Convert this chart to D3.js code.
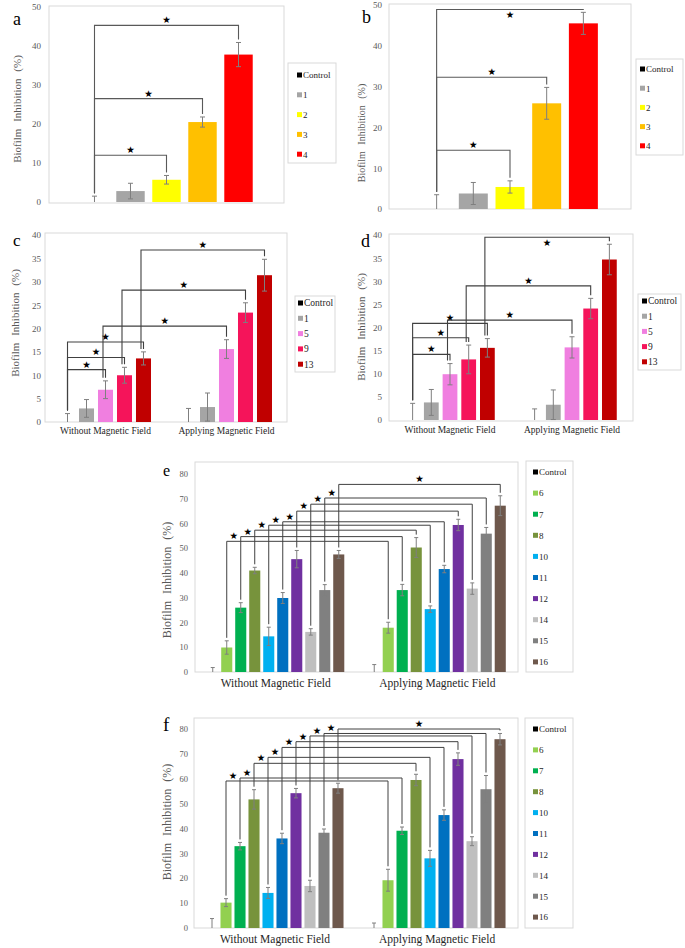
<!DOCTYPE html>
<html>
<head>
<meta charset="utf-8">
<script src="https://cdn.jsdelivr.net/npm/d3@7"></script>
<style>
  body { margin: 0; background: #fff; }
  text { font-family: "Liberation Serif", "Times New Roman", serif; }
</style>
</head>
<body>
<script>
// ---- data ----
const groupsCF = ["Without Magnetic Field", "Applying Magnetic Field"];

const seriesAB = ["Control", "1", "2", "3", "4"];
const colorsAB = ["#000000", "#a5a5a5", "#ffff00", "#ffc000", "#ff0000"];
const valuesA = [0, 2.8, 5.7, 20.5, 37.8];
const errorsA = [1.5, 2.0, 1.1, 1.3, 3.1];
const bracketsA = [{from: [0, 0], to: [0, 2], h: 12.0}, {from: [0, 0], to: [0, 3], h: 26.5}, {from: [0, 0], to: [0, 4], h: 45.3}];
const valuesB = [0, 3.8, 5.4, 25.9, 45.5];
const errorsB = [3.5, 2.7, 1.5, 3.9, 2.7];
const bracketsB = [{from: [0, 0], to: [0, 2], h: 14.4}, {from: [0, 0], to: [0, 3], h: 32.3}, {from: [0, 0], to: [0, 4], h: 48.9}];

const seriesCD = ["Control", "1", "5", "9", "13"];
const colorsCD = ["#000000", "#a5a5a5", "#f07fe0", "#f5145a", "#c00000"];
const valuesC_without = [0, 2.9, 6.9, 10.0, 13.6];
const errorsC_without = [1.8, 1.9, 1.9, 1.7, 1.4];
const valuesC_applying = [0, 3.2, 15.6, 23.4, 31.4];
const errorsC_applying = [2.9, 3.0, 2.0, 2.1, 3.4];
const bracketsC = [
  {from: [0, 0], to: [0, 2], h: 11.2}, {from: [0, 0], to: [0, 3], h: 13.8}, {from: [0, 0], to: [0, 4], h: 17.1},
  {from: [0, 2], to: [1, 2], h: 20.5}, {from: [0, 3], to: [1, 3], h: 28.2}, {from: [0, 4], to: [1, 4], h: 36.8}
];
const valuesD_without = [0, 3.8, 9.9, 13.1, 15.6];
const errorsD_without = [3.6, 2.8, 2.3, 3.1, 2.0];
const valuesD_applying = [0, 3.3, 15.7, 24.1, 34.7];
const errorsD_applying = [2.4, 3.2, 2.3, 2.2, 3.3];
const bracketsD = [
  {from: [0, 0], to: [0, 2], h: 14.2}, {from: [0, 0], to: [0, 3], h: 17.8}, {from: [0, 0], to: [0, 4], h: 20.9},
  {from: [0, 2], to: [1, 2], h: 21.6}, {from: [0, 3], to: [1, 3], h: 29.0}, {from: [0, 4], to: [1, 4], h: 39.5}
];

const seriesEF = ["Control", "6", "7", "8", "10", "11", "12", "14", "15", "16"];
const colorsEF = ["#000000", "#92d050", "#00b050", "#77933c", "#00b0f0", "#0070c0", "#7030a0", "#bfbfbf", "#808080", "#6e584c"];
const valuesE_without = [0, 9.9, 26.0, 41.0, 14.4, 29.9, 45.6, 16.2, 33.1, 47.5];
const errorsE_without = [1.8, 2.7, 2.0, 1.3, 3.7, 2.2, 3.5, 1.3, 2.2, 1.6];
const valuesE_applying = [0, 17.9, 33.1, 50.3, 25.4, 41.6, 59.4, 33.7, 55.9, 67.2];
const errorsE_applying = [3.0, 2.2, 2.3, 4.0, 1.3, 1.5, 2.3, 2.3, 2.5, 4.0];
const bracketHeightsE = [52.8, 54.7, 57.3, 59.3, 60.7, 65.0, 67.8, 70.3, 75.8];
const valuesF_without = [0, 10.2, 32.9, 51.7, 14.1, 36.0, 54.2, 16.9, 38.3, 56.2];
const errorsF_without = [3.8, 1.6, 1.5, 3.9, 2.2, 2.1, 1.9, 2.3, 1.5, 2.0];
const valuesF_applying = [0, 19.2, 39.1, 59.5, 28.0, 45.4, 67.9, 34.9, 55.8, 75.9];
const errorsF_applying = [2.0, 4.4, 1.5, 2.3, 3.2, 2.1, 2.5, 1.8, 5.5, 2.3];
const bracketHeightsF = [59.1, 60.3, 66.2, 68.6, 72.6, 74.9, 77.2, 78.2, 80.0];

// series i of group 0 against series i of group 1
const crossBrackets = hs => hs.map((h, i) => ({from: [0, i + 1], to: [1, i + 1], h: h}));

const W = 685, H = 948;
const serif = '"Liberation Serif", "Times New Roman", serif';
const svg = d3.select("body").append("svg").attr("width", W).attr("height", H);

function drawPanel(cfg) {
  const [x0, y0, x1, y1] = cfg.box;
  const g = svg.append("g");

  g.append("rect")
    .attr("x", x0).attr("y", y0).attr("width", x1 - x0).attr("height", y1 - y0)
    .attr("fill", "none").attr("stroke", "#d9d9d9");

  const y = d3.scaleLinear().domain([0, cfg.yMax]).range([cfg.zeroPx, cfg.topPx]);
  const xg = d3.scaleBand().domain(cfg.groups).range([x0, x1]);
  const span = xg.bandwidth() * cfg.spread;
  const xs = d3.scaleBand().domain(cfg.series)
    .range([(xg.bandwidth() - span) / 2, (xg.bandwidth() + span) / 2])
    .paddingInner(0.21).paddingOuter(0.105);

  const bars = [];
  cfg.groups.forEach((grp, gi) => cfg.series.forEach((s, si) => {
    bars.push({g: grp, gi: gi, s: s, si: si, v: cfg.values[gi][si], e: cfg.errors[gi][si], c: cfg.colors[si]});
  }));
  const cx = d => xg(d.g) + xs(d.s) + xs.bandwidth() / 2;

  // bars
  g.selectAll(".bar")
    .data(bars.filter(d => d.v > 0))
    .join("rect")
    .attr("class", "bar")
    .attr("x", d => xg(d.g) + xs(d.s))
    .attr("width", xs.bandwidth())
    .attr("y", d => y(d.v))
    .attr("height", d => y(0) - y(d.v))
    .attr("fill", d => d.c);

  // error bars
  const eb = g.selectAll(".err").data(bars).join("g").attr("class", "err")
    .attr("stroke", "#7f7f7f").attr("stroke-width", 1);
  eb.append("line")
    .attr("x1", cx).attr("x2", cx)
    .attr("y1", d => y(Math.max(0, d.v - d.e)))
    .attr("y2", d => y(d.v + d.e));
  eb.append("line")
    .attr("x1", d => cx(d) - cfg.cap).attr("x2", d => cx(d) + cfg.cap)
    .attr("y1", d => y(d.v + d.e)).attr("y2", d => y(d.v + d.e));
  eb.filter(d => d.v - d.e > 0).append("line")
    .attr("x1", d => cx(d) - cfg.cap).attr("x2", d => cx(d) + cfg.cap)
    .attr("y1", d => y(d.v - d.e)).attr("y2", d => y(d.v - d.e));

  // y axis
  const ya = g.append("g")
    .attr("transform", `translate(${x0},0)`)
    .call(d3.axisLeft(y).tickValues(d3.range(0, cfg.yMax + 0.01, cfg.yStep)).tickSize(0).tickPadding(cfg.tickPad));
  ya.attr("font-family", null);
  ya.select(".domain").remove();
  ya.selectAll("text").attr("fill", "#595959")
    .style("font-family", serif).style("font-size", cfg.tickSize + "px");

  // x axis (group names)
  if (cfg.groups.length > 1) {
    const xa = g.append("g")
      .attr("transform", `translate(0,${y1})`)
      .call(d3.axisBottom(xg).tickSize(0).tickPadding(cfg.groupPad));
    xa.attr("font-family", null);
    xa.select(".domain").remove();
    xa.selectAll("text").attr("fill", "#262626")
      .style("font-family", serif).style("font-size", cfg.groupSize + "px");
  }

  // significance brackets
  const n = cfg.brackets.length;
  cfg.brackets.forEach((b, i) => {
    const L = bars.find(d => d.gi === b.from[0] && d.si === b.from[1]);
    const R = bars.find(d => d.gi === b.to[0] && d.si === b.to[1]);
    const xl = cx(L) + (b.from[0] !== b.to[0] ? cfg.crossDx : 0);
    const xr = cx(R);
    const yh = y(b.h);
    g.append("path")
      .attr("d", `M${xl},${y(L.v + L.e) - 3}V${yh}H${xr}V${y(R.v + R.e) - 3}`)
      .attr("fill", "none").attr("stroke", cfg.lineColor).attr("stroke-width", cfg.lineWidth);
    const sx = (cfg.starLeft && i < n - 1) ? xl + xs.step() / 2 : (xl + xr) / 2;
    // no room above the line inside the frame: the star sits under it
    const sy = (yh - 8 < y0) ? yh + 9 : yh - 2;
    g.append("text")
      .attr("x", sx).attr("y", sy)
      .attr("text-anchor", "middle")
      .style("font-family", "DejaVu Sans")
      .style("font-size", "9.5px")
      .text("\u2605");
  });

  // legend
  const [lx0, ly0, lx1, ly1] = cfg.legendBox;
  g.append("rect")
    .attr("x", lx0).attr("y", ly0).attr("width", lx1 - lx0).attr("height", ly1 - ly0)
    .attr("fill", "#fff").attr("stroke", "#d9d9d9");
  const li = g.selectAll(".leg").data(cfg.series).join("g").attr("class", "leg")
    .attr("transform", (d, i) => `translate(${cfg.swatchX},${cfg.legendFirst + i * cfg.legendStep})`);
  li.append("rect").attr("x", 0).attr("y", -2.5).attr("width", 5).attr("height", 5)
    .attr("fill", (d, i) => cfg.colors[i]);
  li.append("text").attr("x", 6).attr("y", 3.3)
    .style("font-size", cfg.legendSize + "px").attr("fill", "#262626")
    .text(d => d);

  // y label
  g.append("text")
    .attr("transform", `translate(${cfg.ylabel[0]},${cfg.ylabel[1]}) rotate(-90)`)
    .attr("text-anchor", "middle").attr("dy", "0.35em")
    .attr("fill", "#595959")
    .style("font-size", cfg.ylabelSize + "px")
    .style("word-spacing", "4px")
    .text("Biofilm Inhibition (%)");

  // panel letter
  g.append("text")
    .attr("x", cfg.letter[1]).attr("y", cfg.letter[2])
    .style("font-size", cfg.letter[3] + "px")
    .text(cfg.letter[0]);
}

const common = {lineColor: "#595959", lineWidth: 1.1, cap: 2.5, crossDx: 0, starLeft: false,
  tickSize: 9, groupPad: 5, groupSize: 9.5, legendSize: 9, ylabelSize: 11};

drawPanel(Object.assign({}, common, {
  box: [49, 6, 284, 203], zeroPx: 202, topPx: 7, yMax: 50, yStep: 10,
  groups: [""], series: seriesAB, colors: colorsAB, values: [valuesA], errors: [errorsA],
  brackets: bracketsA, spread: 0.766, tickPad: 8,
  legendBox: [288, 63, 336, 163], legendFirst: 75, legendStep: 19.8, swatchX: 297,
  ylabel: [17, 109], letter: ["a", 13, 25, 18]
}));

drawPanel(Object.assign({}, common, {
  box: [389, 4, 631, 209], zeroPx: 209, topPx: 5, yMax: 50, yStep: 10,
  groups: [""], series: seriesAB, colors: colorsAB, values: [valuesB], errors: [errorsB],
  brackets: bracketsB, spread: 0.758, tickPad: 7,
  legendBox: [636, 59, 683, 155], legendFirst: 69, legendStep: 19.2, swatchX: 640,
  ylabel: [361, 133], ylabelSize: 10, letter: ["b", 362, 23, 18]
}));

drawPanel(Object.assign({}, common, {
  box: [45, 233, 287, 422], zeroPx: 422, topPx: 235, yMax: 40, yStep: 5,
  groups: groupsCF, series: seriesCD, colors: colorsCD,
  values: [valuesC_without, valuesC_applying], errors: [errorsC_without, errorsC_applying],
  brackets: bracketsC, spread: 0.785, tickPad: 4, crossDx: -2.5, lineColor: "#404040",
  legendBox: [295, 296, 335, 372], legendFirst: 303, legendStep: 15.3, swatchX: 298, legendSize: 9.5,
  ylabel: [15, 323], letter: ["c", 13, 246, 17]
}));

drawPanel(Object.assign({}, common, {
  box: [389, 234, 633, 421], zeroPx: 420, topPx: 235, yMax: 40, yStep: 5,
  groups: groupsCF, series: seriesCD, colors: colorsCD,
  values: [valuesD_without, valuesD_applying], errors: [errorsD_without, errorsD_applying],
  brackets: bracketsD, spread: 0.766, tickPad: 7, crossDx: -2.5, lineColor: "#404040",
  legendBox: [638, 294, 681, 370], legendFirst: 301, legendStep: 15.2, swatchX: 642, legendSize: 9.5,
  ylabel: [361, 327], letter: ["d", 361, 247, 18]
}));

drawPanel(Object.assign({}, common, {
  box: [195, 462, 518, 672], zeroPx: 672, topPx: 474, yMax: 80, yStep: 10,
  groups: groupsCF, series: seriesEF, colors: colorsEF,
  values: [valuesE_without, valuesE_applying], errors: [errorsE_without, errorsE_applying],
  brackets: crossBrackets(bracketHeightsE), spread: 0.867, tickPad: 7, tickSize: 8.5,
  lineColor: "#404040", lineWidth: 1, cap: 2, starLeft: true, groupPad: 7, groupSize: 11.5,
  legendBox: [526, 461, 573, 672], legendFirst: 472, legendStep: 21.1, swatchX: 533,
  ylabel: [167, 580], ylabelSize: 12, letter: ["e", 163, 476, 16]
}));

drawPanel(Object.assign({}, common, {
  box: [194, 718, 518, 928], zeroPx: 928, topPx: 729, yMax: 80, yStep: 10,
  groups: groupsCF, series: seriesEF, colors: colorsEF,
  values: [valuesF_without, valuesF_applying], errors: [errorsF_without, errorsF_applying],
  brackets: crossBrackets(bracketHeightsF), spread: 0.864, tickPad: 6, tickSize: 8.5,
  lineColor: "#404040", lineWidth: 1, cap: 2, starLeft: true, groupPad: 7, groupSize: 11.5,
  legendBox: [525, 718, 573, 928], legendFirst: 729, legendStep: 20.9, swatchX: 533,
  ylabel: [167, 822], ylabelSize: 12, letter: ["f", 163, 731, 19]
}));
</script>
</body>
</html>
